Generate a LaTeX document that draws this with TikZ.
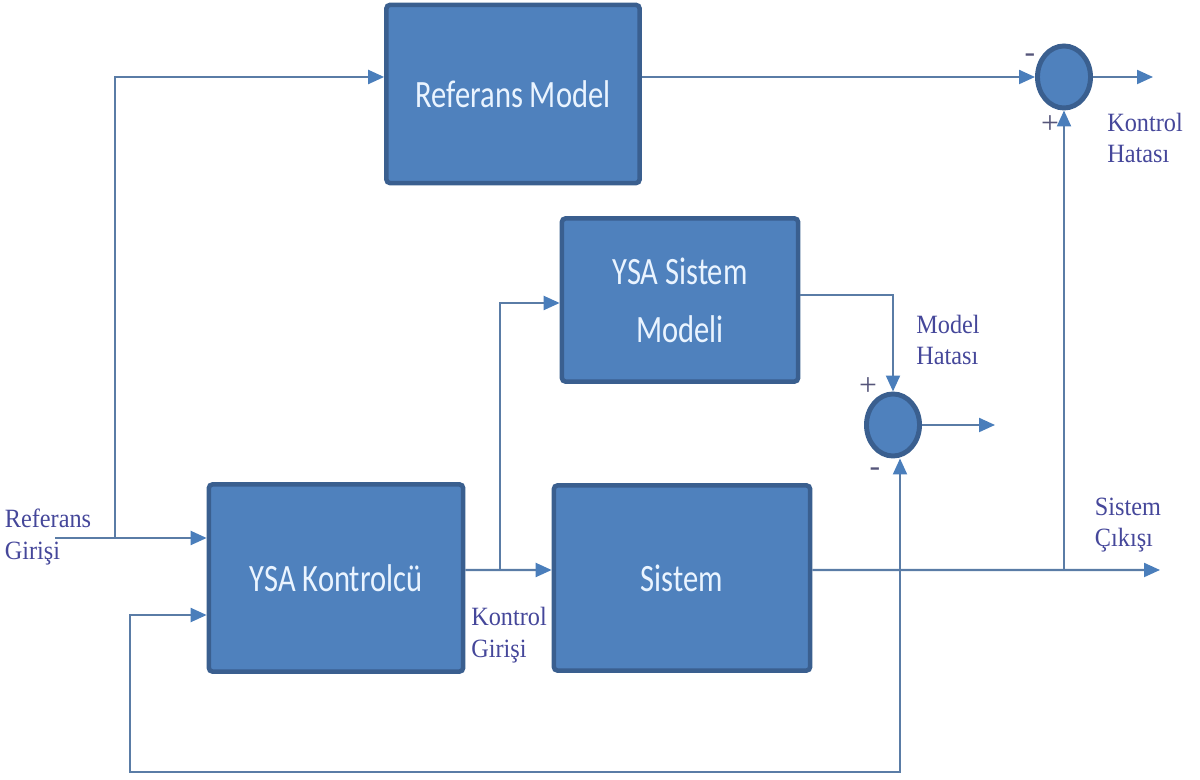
\documentclass[tikz,border=0pt]{standalone}
\usepackage{fontspec}
\setmainfont{Liberation Serif}
\newfontfamily\blockfont[FakeStretch=0.79]{Carlito}
\newfontfamily\notefont[FakeStretch=0.92]{Liberation Serif}
\usetikzlibrary{arrows.meta, shapes.geometric}

\definecolor{blockfill}{HTML}{4F81BD}
\definecolor{blockedge}{HTML}{3A5F8F}
\definecolor{blocktext}{HTML}{EAF4FF}
\definecolor{wire}{HTML}{5A7CA6}
\definecolor{tipfill}{HTML}{4A7EBB}
\definecolor{noteink}{HTML}{45479A}
\definecolor{signink}{HTML}{55557A}

\begin{document}
\begin{tikzpicture}[x=0.01cm, y=-0.01cm]
		\tikzset{
			block/.style={
				rectangle,
				draw=blockedge,
				line width=1.3pt,
				rounded corners=1pt,
				fill=blockfill,
				text=blocktext,
				align=center,
				font={\blockfont\fontsize{11}{16.5}\selectfont}
			},
			sum/.style={
				ellipse,
				draw=blockedge,
				line width=1.4pt,
				fill=blockfill,
				minimum width=0.53cm,
				minimum height=0.62cm,
				inner sep=0pt
			},
			line/.style={
				-{Triangle[length=1.6mm, width=1.4mm, fill=tipfill, color=tipfill]},
				draw=wire,
				line width=0.6pt
			},
			note/.style={
				align=left,
				text=noteink,
				inner sep=0pt,
				font={\notefont\fontsize{7.5}{9}\selectfont}
			},
			sign/.style={
				text=signink,
				inner sep=0pt,
				font={\fontsize{9}{9}\selectfont}
			}
		}

		\useasboundingbox (0,0) rectangle (1200,780);

		\node[block, minimum width=2.53cm, minimum height=1.78cm] (refmodel) at (513, 94)
			{Referans Model};
		\node[block, minimum width=2.36cm, minimum height=1.63cm] (nnmodel) at (680, 300)
			{YSA Sistem\\Modeli};
		\node[block, minimum width=2.54cm, minimum height=1.87cm] (ctrl) at (336, 578)
			{YSA Kontrolcü};
		\node[block, minimum width=2.56cm, minimum height=1.85cm] (plant) at (682, 578)
			{Sistem};

		\node[sum] (sumtop) at (1064, 77) {};
		\node[sum] (sumerr) at (893, 425) {};

		\coordinate (refin) at (55, 538);
		\coordinate (split) at (115, 538);
		\coordinate (ubranch) at (500, 570);
		\coordinate (yout) at (1160, 570);
		\coordinate (fbtap) at (900, 570);
		\coordinate (fbcorner) at (130, 772);
		\coordinate (ctrlerr) at (1153, 77);
		\coordinate (modelerr) at (995, 425);

		% reference path
		\draw[line] (refin) -- (refin -| ctrl.west);
		\draw[line] (split) |- (refmodel.west |- sumtop.west);
		\draw[line] (refmodel.east |- sumtop.west) -- (sumtop.west);
		\draw[line] (sumtop.east) -- (ctrlerr);

		% control signal and model
		\draw[line] ([yshift=.08cm]ctrl.east) -- (ubranch -| plant.west);
		\draw[line] (ubranch) |- ([yshift=-.03cm]nnmodel.west);
		\draw[line] ([yshift=.05cm]nnmodel.east) -| (sumerr.north);
		\draw[line] (sumerr.east) -- (modelerr);

		% plant output and feedback
		\draw[line] ([yshift=.08cm]plant.east) -- (yout);
		\draw[line] (sumtop.south |- yout) -- (sumtop.south);
		\draw[line] (fbtap) -- (fbtap |- sumerr.south);
		\draw[line] (fbtap) |- (fbcorner) |- ([yshift=-.37cm]ctrl.west);

		\node[note] (lblref) at (48, 537) {Referans\\Girişi};
		\node[note] (lblu) at (509, 635) {Kontrol\\Girişi};
		\node[note] (lblem) at (948, 340) {Model\\Hatası};
		\node[note] (lblec) at (1145, 138) {Kontrol\\Hatası};
		\node[note] (lbly) at (1128, 525) {Sistem\\Çıkışı};

		\node[sign] (s1) at (1030, 58) {-};
		\node[sign] (s2) at (1050, 125) {+};
		\node[sign] (s3) at (868, 387) {+};
		\node[sign] (s4) at (875, 472) {-};

	\end{tikzpicture}
\end{document}
